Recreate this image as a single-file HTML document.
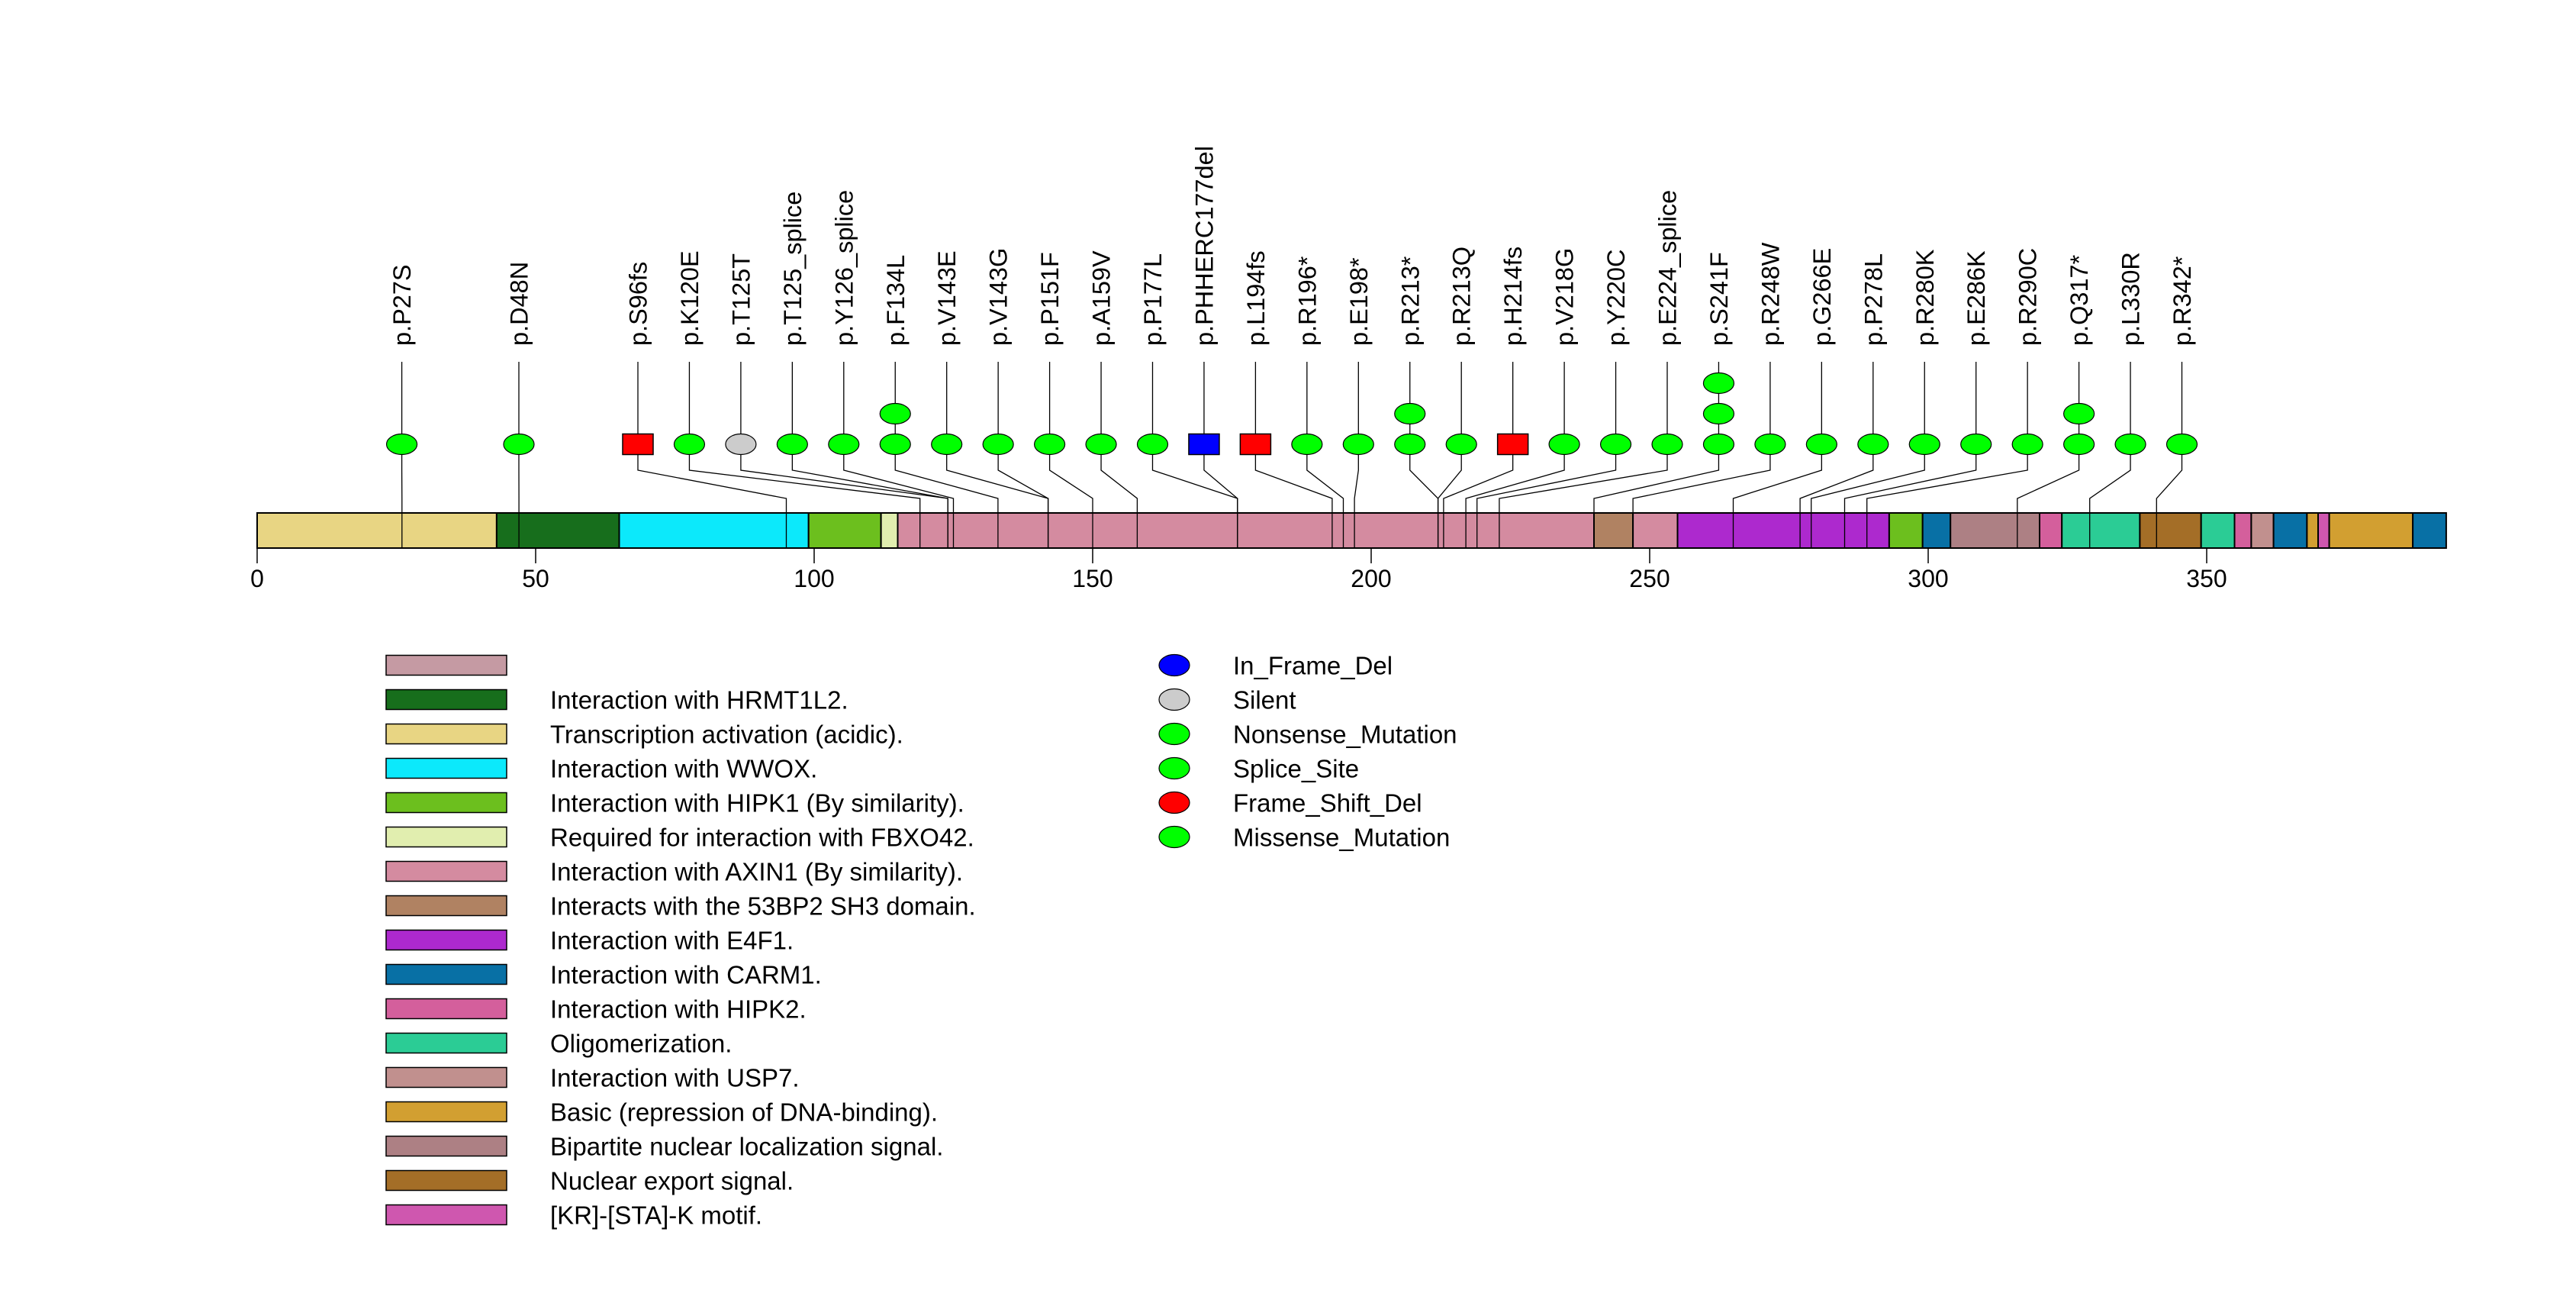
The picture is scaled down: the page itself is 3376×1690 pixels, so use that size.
<!DOCTYPE html>
<html><head><meta charset="utf-8"><style>
html,body{margin:0;padding:0;background:#fff;}
svg{display:block;font-family:"Liberation Sans",sans-serif;}
</style></head><body>
<svg id="chart" width="3376" height="1690" viewBox="0 0 3376 1690" xmlns="http://www.w3.org/2000/svg"></svg>
<script>
const mutLabels = ["p.P27S","p.D48N","p.S96fs","p.K120E","p.T125T","p.T125_splice","p.Y126_splice","p.F134L","p.V143E","p.V143G","p.P151F","p.A159V","p.P177L","p.PHHERC177del","p.L194fs","p.R196*","p.E198*","p.R213*","p.R213Q","p.H214fs","p.V218G","p.Y220C","p.E224_splice","p.S241F","p.R248W","p.G266E","p.P278L","p.R280K","p.E286K","p.R290C","p.Q317*","p.L330R","p.R342*"];
const mutPositions = [27,48,96,120,125,125,126,134,143,143,151,159,177,177,194,196,198,213,213,214,218,220,224,241,248,266,278,280,286,290,317,330,342];
const mutCounts = [1,1,1,1,1,1,1,2,1,1,1,1,1,1,1,1,1,2,1,1,1,1,1,3,1,1,1,1,1,1,2,1,1];
const mutTypes = ["g","g","fs","g","s","g","g","g","g","g","g","g","g","del","fs","g","g","g","g","fs","g","g","g","g","g","g","g","g","g","g","g","g","g"];
const domStarts = [0,43,65,99,112,115,240,247,255,293,299,304,320,324,338,349,355,358,362,368,370,372,387];
const domEnds =   [43,65,99,112,115,240,247,255,293,299,304,320,324,338,349,355,358,362,368,370,372,387,393];
const domColors = ["#E8D583","#176E1C","#0CE9FB","#6CBF1E","#E1EEAF","#D48BA0","#B08262","#D48BA0","#AD29CE","#6CBF1E","#0870A5","#AD8084","#D45F9C","#2BCC95","#A46E27","#2BCC95","#D45F9C","#C1908E","#0870A5","#D29F31","#CF57AF","#D29F31","#0870A5"];
const tickValues = [0,50,100,150,200,250,300,350];
const legendLabels = ["","Interaction with HRMT1L2.","Transcription activation (acidic).","Interaction with WWOX.","Interaction with HIPK1 (By similarity).","Required for interaction with FBXO42.","Interaction with AXIN1 (By similarity).","Interacts with the 53BP2 SH3 domain.","Interaction with E4F1.","Interaction with CARM1.","Interaction with HIPK2.","Oligomerization.","Interaction with USP7.","Basic (repression of DNA-binding).","Bipartite nuclear localization signal.","Nuclear export signal.","[KR]-[STA]-K motif."];
const legendColors = ["#C59AA3","#176E1C","#E8D583","#0CE9FB","#6CBF1E","#E1EEAF","#D48BA0","#B08262","#AD29CE","#0870A5","#D45F9C","#2BCC95","#C1908E","#D29F31","#AD8084","#A46E27","#CF57AF"];
const typeLabels = ["In_Frame_Del","Silent","Nonsense_Mutation","Splice_Site","Frame_Shift_Del","Missense_Mutation"];
const typeColors = ["#0000FF","#CCCCCC","#00FF00","#00FF00","#FF0000","#00FF00"];

const svg = document.getElementById('chart');
const NS = "http://www.w3.org/2000/svg";
const X0 = 337, PPU = 7.3;
const xScale = v => X0 + v * PPU;
const posX = p => X0 + (p - 1) * PPU;
const BAR_TOP = 672, BAR_BOT = 718;
function mk(tag, attrs, parent) {
  const e = document.createElementNS(NS, tag);
  for (const k in attrs) e.setAttribute(k, attrs[k]);
  (parent || svg).appendChild(e);
  return e;
}
const fillOf = t => t === "fs" ? "#FF0000" : t === "del" ? "#0000FF" : t === "s" ? "#CCCCCC" : "#00FF00";

domStarts.forEach((s, i) => {
  const r = mk('rect', {x: xScale(s), y: BAR_TOP, width: xScale(domEnds[i]) - xScale(s), height: BAR_BOT - BAR_TOP, fill: domColors[i], stroke: "#000", "stroke-width": 2});
  
  
});

tickValues.forEach(v => {
  const l = mk('line', {x1: xScale(v), x2: xScale(v), y1: BAR_BOT, y2: 738, stroke: "#000", "stroke-width": 1.5});
  
  
  const t = mk('text', {x: xScale(v), y: 769, "font-size": 32, "text-anchor": "middle"});
  t.textContent = v;
  
  
});

mutLabels.forEach((lab, i) => {
  const lx = i === 0 ? 526.6 : i === 1 ? 680 : 836 + (i - 2) * 67.45;
  const bx = posX(mutPositions[i]);
  const n = mutCounts[i];
  const topC = 582 - (n - 1) * 40;
  const g = mk('g', {});
  
  
  mk('line', {x1: lx, x2: lx, y1: 474, y2: topC - 13, stroke: "#000", "stroke-width": 1.3}, g);
  mk('polyline', {points: `${lx},595 ${lx},616 ${bx},653 ${bx},${BAR_BOT}`, fill: "none", stroke: "#000", "stroke-width": 1.3}, g);
  for (let k = 0; k < n; k++) {
    const cy = 582 - k * 40;
    if (k > 0) mk('line', {x1: lx, x2: lx, y1: cy + 13, y2: cy + 27, stroke: "#000", "stroke-width": 1.3}, g);
    let m;
    if (mutTypes[i] === "fs" || mutTypes[i] === "del")
      m = mk('rect', {x: lx - 20, y: cy - 13.5, width: 40, height: 27, fill: fillOf(mutTypes[i]), stroke: "#000", "stroke-width": 1.5}, g);
    else
      m = mk('ellipse', {cx: lx, cy: cy, rx: 20, ry: 13.5, fill: fillOf(mutTypes[i]), stroke: "#000", "stroke-width": 1.2}, g);
    
    
  }
  const t = mk('text', {x: lx + 11.5, y: 453, "font-size": 32.5, transform: `rotate(-90 ${lx + 11.5} 453)`}, g);
  t.textContent = lab;
  
  
});

legendLabels.forEach((lab, i) => {
  const cy = 871.5 + i * 45;
  const r = mk('rect', {x: 506, y: cy - 13, width: 158, height: 26, fill: legendColors[i], stroke: "#000", "stroke-width": 1.5});
  
  
  const t = mk('text', {x: 721, y: cy + 12, "font-size": 33});
  t.textContent = lab;
  
  
});

typeLabels.forEach((lab, i) => {
  const cy = 871.5 + i * 45;
  const e = mk('ellipse', {cx: 1539, cy: cy, rx: 20, ry: 14, fill: typeColors[i], stroke: "#000", "stroke-width": 1.2});
  
  
  const t = mk('text', {x: 1616, y: cy + 12, "font-size": 33});
  t.textContent = lab;
  
  
});
</script>
</body></html>
